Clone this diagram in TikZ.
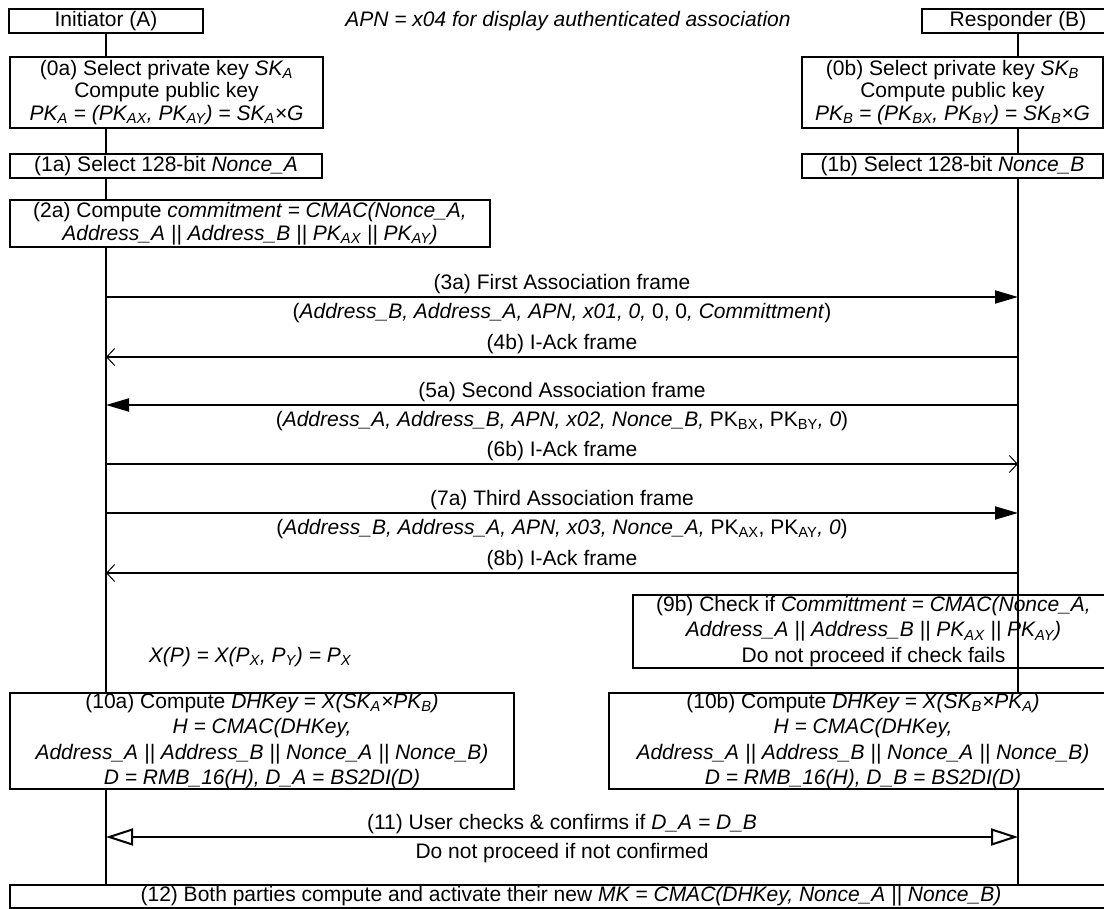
\documentclass[tikz,border=0pt]{standalone}
\usepackage{fontspec}
\setmainfont{Liberation Sans}
\usetikzlibrary{arrows.meta, positioning, backgrounds}
\newcommand\boxfont{\fontsize{21}{22.5}\selectfont}
\newcommand\tallfont{\fontsize{21}{25.5}\selectfont}
\tikzset{
  % Party heading (Initiator / Responder)
  actor/.style={
    rectangle, draw=black, fill=white, line width=2pt,
    minimum height=24pt, inner sep=0pt,
    font=\boxfont, align=center
  },
  % Computation step box
  stepbox/.style={
    rectangle, draw=black, fill=white, line width=2pt,
    inner sep=0pt, font=\boxfont, align=center
  },
  % Check box (lifeline stays visible)
  checkbox/.style={
    stepbox, fill=none, font=\tallfont
  },
  % Free formula text
  formula/.style={
    font=\boxfont\itshape, inner sep=0pt
  },
  % Lifeline
  lifeline/.style={
    line width=2pt
  },
  % Association frame arrow
  frame/.style={
    -{Triangle[length=23pt, width=13pt]}, line width=2pt
  },
  % Immediate ack arrow
  ack/.style={
    -{Straight Barb[length=8pt, width=17pt, line width=1pt]}, line width=2pt
  },
  % User confirmation arrow
  confirm/.style={
    {Triangle[open, length=27pt, width=17pt]}-{Triangle[open, length=27pt, width=17pt]},
    line width=2pt
  },
  % Message labels
  msgabove/.style={
    above, font=\boxfont, inner sep=2pt
  },
  msgbelow/.style={
    below, font=\boxfont, inner sep=2pt, yshift=-3pt
  },
}

\begin{document}
\begin{tikzpicture}[x=1pt, y=-1pt]
  \useasboundingbox (0,0) rectangle (1104,909);
  \clip (0,0) rectangle (1104,909);

  \node[actor, minimum width=194pt] (ini) at (106,21) {Initiator (A)};
  \node[actor, minimum width=192pt] (resp) at (1018,21) {Responder (B)};
  \node[formula] (apn) at (568,21) {APN = x04 for display authenticated association};

  \node[stepbox, minimum width=313pt, minimum height=71pt] (s0a) at (166.5,92.5)
    {(0a) Select private key \textit{SK\textsubscript{A}}\\
     Compute public key\\
     \textit{PK\textsubscript{A} = (PK\textsubscript{AX}, PK\textsubscript{AY}) = SK\textsubscript{A}×G}};
  \node[stepbox, minimum width=301pt, minimum height=71pt] (s0b) at (952.5,92.5)
    {(0b) Select private key \textit{SK\textsubscript{B}}\\
     Compute public key\\
     \textit{PK\textsubscript{B} = (PK\textsubscript{BX}, PK\textsubscript{BY}) = SK\textsubscript{B}×G}};
  \node[stepbox, minimum width=312pt, minimum height=24pt] (s1a) at (166,166)
    {(1a) Select 128-bit \textit{Nonce\_A}};
  \node[stepbox, minimum width=301pt, minimum height=24pt] (s1b) at (952.5,166)
    {(1b) Select 128-bit \textit{Nonce\_B}};
  \node[stepbox, minimum width=480pt, minimum height=47pt] (s2a) at (250,223.5)
    {(2a) Compute \textit{commitment = CMAC(Nonce\_A,}\\
     \textit{Address\_A || Address\_B || PK\textsubscript{AX} || PK\textsubscript{AY})}};

  \node[checkbox, minimum width=481pt, minimum height=73pt] (s9b) at (873.5,631.5)
    {(9b) Check if \textit{Committment = CMAC(Nonce\_A,}\\
     \textit{Address\_A || Address\_B || PK\textsubscript{AX} || PK\textsubscript{AY})}\\
     Do not proceed if check fails};
  \node[formula] (xp) at (250,657)
    {X(P) = X(P\textsubscript{X}, P\textsubscript{Y}) = P\textsubscript{X}};
  \node[stepbox, font=\tallfont, minimum width=504pt, minimum height=96pt] (s10a) at (262,741)
    {(10a) Compute \textit{DHKey = X(SK\textsubscript{A}×PK\textsubscript{B})}\\
     \textit{H = CMAC(DHKey,}\\
     \textit{Address\_A || Address\_B || Nonce\_A || Nonce\_B)}\\
     \textit{D = RMB\_16(H), D\_A = BS2DI(D)}};
  \node[stepbox, font=\tallfont, minimum width=508pt, minimum height=96pt] (s10b) at (863,741)
    {(10b) Compute \textit{DHKey = X(SK\textsubscript{B}×PK\textsubscript{A})}\\
     \textit{H = CMAC(DHKey,}\\
     \textit{Address\_A || Address\_B || Nonce\_A || Nonce\_B)}\\
     \textit{D = RMB\_16(H), D\_B = BS2DI(D)}};
  \node[stepbox, minimum width=1122pt, minimum height=23pt] (s12) at (571,896.5)
    {(12) Both parties compute and activate their new \textit{MK = CMAC(DHKey, Nonce\_A || Nonce\_B)}};

  \begin{scope}[on background layer]
    \draw[lifeline] (ini.south) -- (ini.south |- s12.north);
    \draw[lifeline] (resp.south) -- (resp.south |- s12.north);
  \end{scope}

  \foreach \n/\y in {3/297, 4/357, 5/405, 6/464, 7/513, 8/573, 11/837} {
    \coordinate (a\n) at (ini.center |- 0,\y);
    \coordinate (b\n) at (resp.center |- 0,\y);
  }

  \draw[frame] (a3) -- node[msgabove] {(3a) First Association frame}
    node[msgbelow] {(\textit{Address\_B, Address\_A, APN, x01, 0,} 0, 0\textit{, Committment})} (b3);
  \draw[ack] (b4) -- node[msgabove] {(4b) I-Ack frame} (a4);
  \draw[frame] (b5) -- node[msgabove] {(5a) Second Association frame}
    node[msgbelow] {(\textit{Address\_A, Address\_B, APN, x02, Nonce\_B,} PK\textsubscript{BX}, PK\textsubscript{BY}\textit{, 0})} (a5);
  \draw[ack] (a6) -- node[msgabove] {(6b) I-Ack frame} (b6);
  \draw[frame] (a7) -- node[msgabove] {(7a) Third Association frame}
    node[msgbelow] {(\textit{Address\_B, Address\_A, APN, x03, Nonce\_A,} PK\textsubscript{AX}, PK\textsubscript{AY}\textit{, 0})} (b7);
  \draw[ack] (b8) -- node[msgabove] {(8b) I-Ack frame} (a8);
  \draw[confirm] (a11) -- node[msgabove] {(11) User checks \& confirms if \textit{D\_A = D\_B}}
    node[msgbelow] {Do not proceed if not confirmed} (b11);
\end{tikzpicture}
\end{document}
